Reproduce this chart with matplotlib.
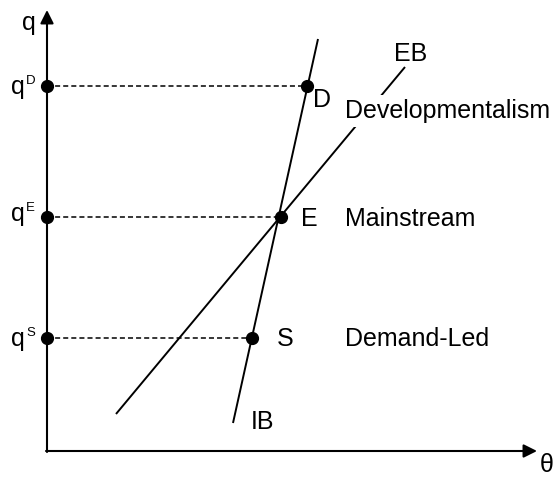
import matplotlib
matplotlib.use("Agg")
import matplotlib.pyplot as plt
from matplotlib.patches import FancyArrowPatch

# ---- data (abstract units: theta on x, q on y) ----
point_labels = ["D", "E", "S"]
theta_points = [2.60, 2.34, 2.05]
q_points = [3.65, 2.34, 1.13]
q_tick_sup = ["D", "E", "S"]
regime_labels = ["Developmentalism", "Mainstream", "Demand-Led"]

ib_theta = [1.86, 2.71]
ib_q = [0.28, 4.12]
eb_theta = [0.69, 3.58]
eb_q = [0.37, 3.84]

axis_theta_max = 4.90
axis_q_max = 4.41

plt.rcParams['font.family'] = ['Liberation Sans', 'DejaVu Sans']

W, H = 558, 479
fig = plt.figure(figsize=(W / 100, H / 100), dpi=100)
ax = fig.add_axes([0, 0, 1, 1])
ox, oy = 47, 451  # pixel origin
ax.set_xlim((0 - ox) / 100, (W - ox) / 100)
ax.set_ylim((oy - H) / 100, (oy - 0) / 100)
ax.axis('off')


def P(px, py):
    return (px - ox) / 100, (oy - py) / 100


# axes with arrows
for start, end in [((0, -0.01), (0, axis_q_max)), ((-0.01, 0), (axis_theta_max, 0))]:
    arr = FancyArrowPatch(start, end, arrowstyle='-|>,head_length=0.8,head_width=0.4',
                          mutation_scale=10, lw=1.5, color='black',
                          shrinkA=0, shrinkB=0)
    ax.add_patch(arr)

# curves
ax.plot(ib_theta, ib_q, color='black', lw=1.4, solid_capstyle='butt')
ax.plot(eb_theta, eb_q, color='black', lw=1.4, solid_capstyle='butt')

# dashed guides and dots
for th, q in zip(theta_points, q_points):
    ax.plot([0, th], [q, q], color='black', lw=1.1, linestyle=(0, (3.3, 2.0)))
    ax.plot([0, th], [q, q], 'o', color='black', markersize=8.5, zorder=5)

fs = 18
# axis labels
ax.text(*P(22, 30), "q", fontsize=fs, ha='left', va='baseline')
ax.text(*P(540, 472), "θ", fontsize=fs, ha='left', va='baseline')

# q tick labels
q_base = [94, 221, 346]
for sup, qb in zip(q_tick_sup, q_base):
    ax.text(*P(11, qb), "q", fontsize=fs, ha='left', va='baseline')
    ax.text(*P(26, qb - 10), sup, fontsize=9.5, ha='left', va='baseline')

# point labels
pt_text = {"D": (313, 107), "E": (301, 226), "S": (277, 346)}
for lab in point_labels:
    ax.text(*P(*pt_text[lab]), lab, fontsize=fs, ha='left', va='baseline')

# regime labels
reg_pos = [(345, 118), (345, 226), (345, 346)]
for lab, pos in zip(regime_labels, reg_pos):
    kw = {}
    if lab == "Developmentalism":
        kw['bbox'] = dict(facecolor='white', edgecolor='none', pad=3)
    ax.text(*P(*pos), lab, fontsize=fs, ha='left', va='baseline', zorder=6, **kw)

ax.text(*P(394, 61), "EB", fontsize=fs, ha='left', va='baseline')
ax.text(*P(251, 429), "IB", fontsize=fs, ha='left', va='baseline')

fig.savefig("out.png", dpi=100)
